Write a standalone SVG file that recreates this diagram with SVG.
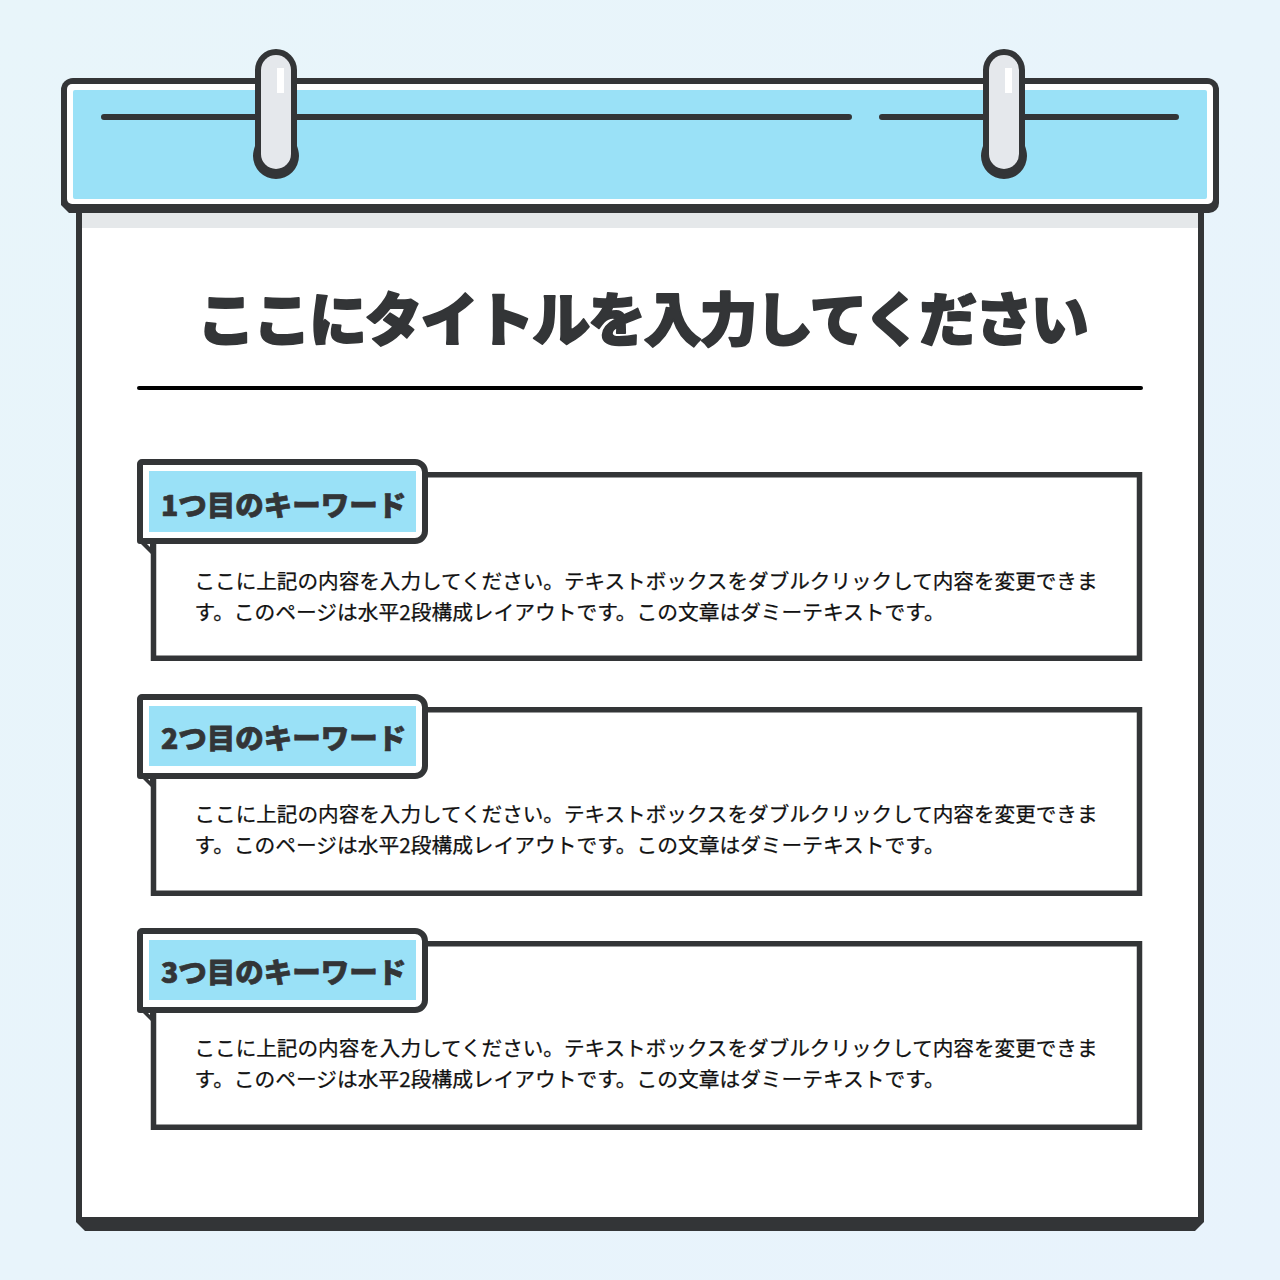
<svg xmlns="http://www.w3.org/2000/svg" width="1280" height="1280" viewBox="0 0 1280 1280">
<defs>
<linearGradient id="bg" x1="0" y1="0" x2="1" y2="1"><stop offset="0" stop-color="#e8f5fa"/><stop offset="1" stop-color="#e8f3fc"/></linearGradient>
<g id="clip">
<path d="M-21 70 A21 21 0 0 1 21 70 V146 C22 149 23 152 23 156 A23 23 0 0 1 -23 156 C-23 152 -22 149 -21 146 Z" fill="#333537"/>
<path d="M-15 70 A15 15 0 0 1 15 70 V154 A15 15 0 0 1 -15 154 Z" fill="#e5e8ec"/>
<rect x="1" y="68" width="7" height="25" fill="#fff"/>
</g>
<path id="tab" d="M142 -3 H415 A10 10 0 0 1 425 7 V66 A10 10 0 0 1 415 76 H140 V-1 A2 2 0 0 1 142 -3 Z"/>
</defs>
<style>
.ink{fill:#333537}
.tab{fill:#fff;stroke:#333537;stroke-width:6px;stroke-linejoin:round}
.title{font-family:"Noto Sans CJK JP","Noto Sans",sans-serif;font-weight:900;font-size:58px;letter-spacing:-2.2px;fill:#333537;stroke:#333537;stroke-width:1.8px;stroke-linejoin:round}
.kw{font-family:"Noto Sans CJK JP","Noto Sans",sans-serif;font-weight:900;font-size:28.5px;fill:#333537;stroke:#333537;stroke-width:.7px;stroke-linejoin:round}
.body{font-family:"Noto Sans CJK JP","Noto Sans",sans-serif;font-weight:400;font-size:20.6px;fill:#111;stroke:#111;stroke-width:.25px}
.l2{font-size:20.72px}
</style>
<rect width="1280" height="1280" fill="url(#bg)"/>
<g id="page">
<path d="M76 205 H1204 V1222 L1195 1231 H85 L76 1222 Z" class="ink"/>
<rect x="82" y="205" width="1116" height="1012" fill="#fff"/>
<rect x="82" y="213" width="1116" height="15" fill="#e5e8ea"/>
</g>
<g id="header">
<path d="M73 78 H1207 A12 12 0 0 1 1219 90 V203 A10 10 0 0 1 1209 213 H69 L61 205 V90 A12 12 0 0 1 73 78 Z" class="ink"/>
<rect x="67" y="84" width="1146" height="120" rx="5" fill="#fff"/>
<rect x="73" y="90" width="1134" height="109" rx="2" fill="#9ae1f7"/>
<path d="M104 117 H849 M882 117 H1176" stroke="#333537" stroke-width="6" stroke-linecap="round" fill="none"/>
</g>
<g id="clip-left"><use href="#clip" x="276"/></g>
<g id="clip-right"><use href="#clip" x="1004"/></g>
<g id="title">
<text class="title" x="642" y="341" text-anchor="middle">ここにタイトルを入力してください</text>
<rect x="137" y="386" width="1006" height="4" rx="2" fill="#000"/>
</g>
<g id="card-1">
<rect x="153.500" y="474.750" width="986" height="183.500" fill="#fff" stroke="#333537" stroke-width="5.5"/>
<path d="M137 540 L151 554 H156 V540 Z" class="ink"/>
<path d="M147 544 H150 V547 Z" fill="#fff"/>
<use href="#tab" y="465" class="tab"/>
<rect x="149" y="471" width="267" height="61" fill="#9ae1f7"/>
<text class="kw" x="161" y="516">1つ目のキーワード</text>
<text class="body" x="194.500" y="589">ここに上記の内容を入力してください。テキストボックスをダブルクリックして内容を変更できま</text>
<text class="body l2" x="194.500" y="620">す。このページは水平2段構成レイアウトです。この文章はダミーテキストです。</text>
</g>
<g id="card-2">
<rect x="153.500" y="709.750" width="986" height="183.500" fill="#fff" stroke="#333537" stroke-width="5.5"/>
<path d="M137 773 L151 787 H156 V773 Z" class="ink"/>
<path d="M147 778 H150 V781 Z" fill="#fff"/>
<use href="#tab" y="700" class="tab"/>
<rect x="149" y="706" width="267" height="60" fill="#9ae1f7"/>
<text class="kw" x="161" y="749">2つ目のキーワード</text>
<text class="body" x="194.500" y="822">ここに上記の内容を入力してください。テキストボックスをダブルクリックして内容を変更できま</text>
<text class="body l2" x="194.500" y="853">す。このページは水平2段構成レイアウトです。この文章はダミーテキストです。</text>
</g>
<g id="card-3">
<rect x="153.500" y="943.750" width="986" height="183.500" fill="#fff" stroke="#333537" stroke-width="5.5"/>
<path d="M137 1007 L151 1021 H156 V1007 Z" class="ink"/>
<path d="M147 1012 H150 V1015 Z" fill="#fff"/>
<use href="#tab" y="934" class="tab"/>
<rect x="149" y="940" width="267" height="60" fill="#9ae1f7"/>
<text class="kw" x="161" y="983">3つ目のキーワード</text>
<text class="body" x="194.500" y="1056">ここに上記の内容を入力してください。テキストボックスをダブルクリックして内容を変更できま</text>
<text class="body l2" x="194.500" y="1087">す。このページは水平2段構成レイアウトです。この文章はダミーテキストです。</text>
</g>
</svg>
